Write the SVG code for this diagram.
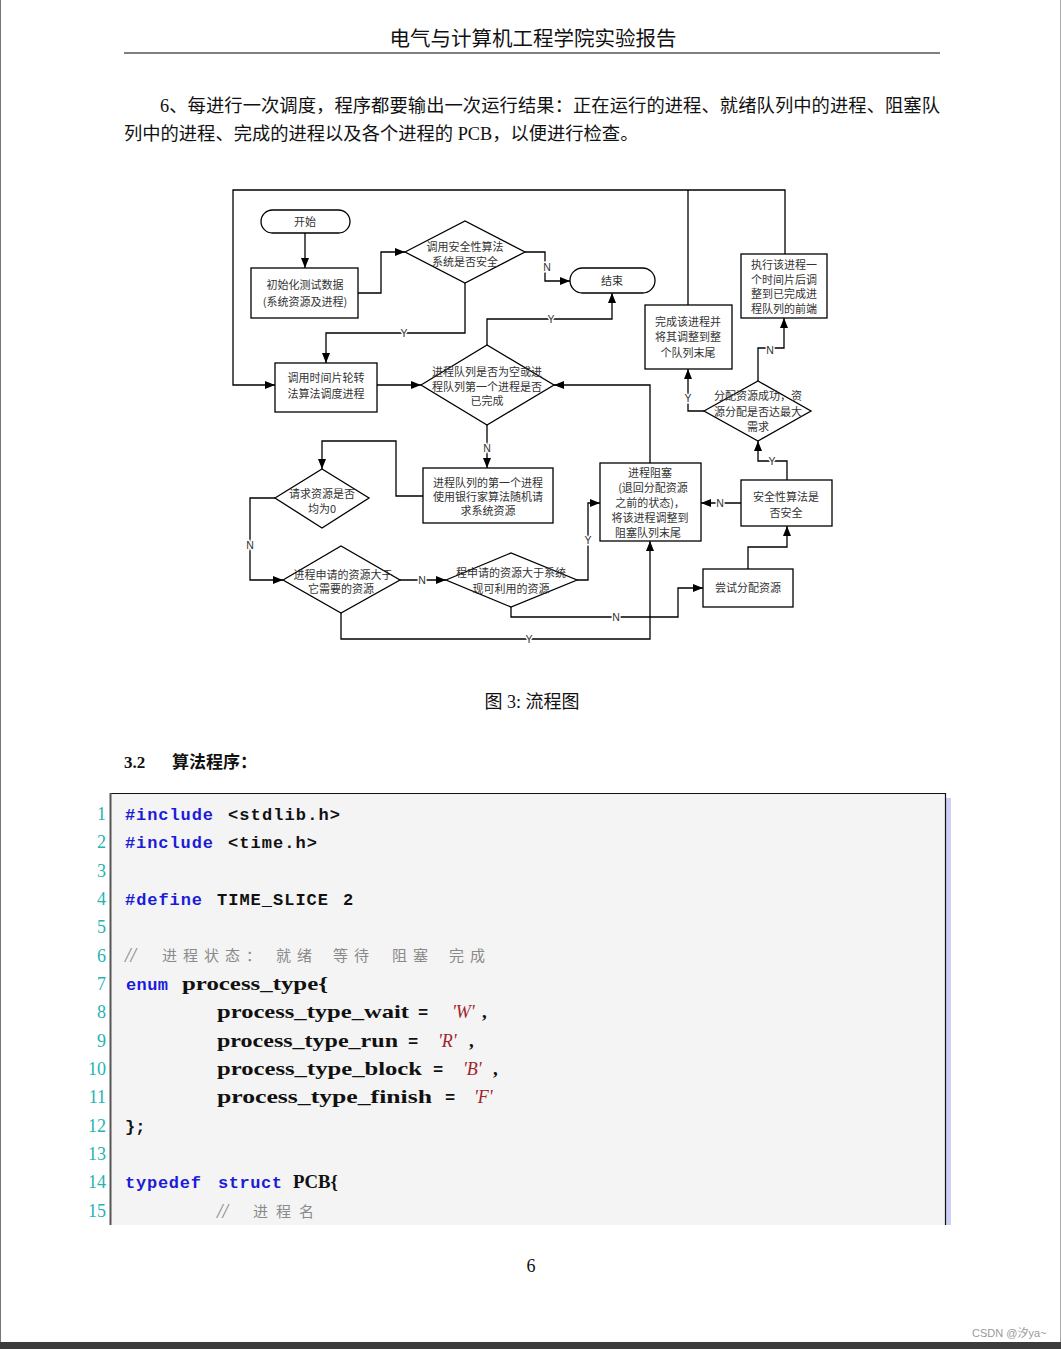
<svg xmlns="http://www.w3.org/2000/svg" width="1061" height="1349" viewBox="0 0 1061 1349">
<defs>
<marker id="ah" markerUnits="userSpaceOnUse" viewBox="0 0 10 8" markerWidth="10" markerHeight="8" refX="10" refY="4" orient="auto">
<path d="M0,0 L10,4 L0,8 z" fill="#000"/>
</marker>
<style>
.n{fill:#fff;stroke:#000;stroke-width:1.3}
.c{fill:none;stroke:#000;stroke-width:1.3;marker-end:url(#ah)}
.c0{fill:none;stroke:#000;stroke-width:1.3}
.t{font-family:"Noto Sans CJK SC","Liberation Sans",sans-serif;font-size:11px;fill:#333;text-anchor:middle}
.l{font-family:"Liberation Sans",sans-serif;font-size:10.5px;fill:#333;text-anchor:middle;stroke:#fff;stroke-width:3;paint-order:stroke}
.doc{font-family:"Liberation Serif","Noto Sans CJK SC",serif;fill:#111}
.mono{font-family:"Liberation Mono",monospace;font-weight:bold;font-size:17px}
.kw{fill:#1c1cd8}
.blk{fill:#111}
.id{font-family:"Liberation Serif",serif;font-weight:bold;font-size:19px;fill:#111}
.str{font-family:"Liberation Serif",serif;font-style:italic;font-size:18px;fill:#a0242c}
.cm{font-family:"Noto Sans CJK SC",sans-serif;font-size:15px;fill:#8a8a8a}
.cms{font-family:"Liberation Serif",serif;font-style:italic;font-size:20px;fill:#8a8a8a}
.ln{font-family:"Liberation Serif",serif;font-size:18px;fill:#25b3b3;text-anchor:end}
</style>
</defs>
<rect x="0" y="0" width="1061" height="1349" fill="#fff"/>
<line x1="0.5" y1="0" x2="0.5" y2="1342" stroke="#777" stroke-width="1"/>
<line x1="1060.5" y1="0" x2="1060.5" y2="1342" stroke="#aaa" stroke-width="1"/>

<!-- header -->
<text class="doc" x="533" y="46" font-size="20.5" text-anchor="middle">电气与计算机工程学院实验报告</text>
<line x1="124" y1="53" x2="940" y2="53" stroke="#000" stroke-width="1"/>
<text class="doc" x="160" y="112" font-size="18.3" textLength="780" lengthAdjust="spacing">6、每进行一次调度，程序都要输出一次运行结果：正在运行的进程、就绪队列中的进程、阻塞队</text>
<text class="doc" x="124" y="140" font-size="18.3">列中的进程、完成的进程以及各个进程的 PCB，以便进行检查。</text>

<!-- flowchart connectors -->
<g id="connectors">
<path class="c" d="M305,233 V268"/>
<path class="c" d="M358,293 H381 V252 H405"/>
<path class="c" d="M525,252 H545 V281 H570"/>
<path class="c" d="M465,283 V333 H326 V363"/>
<path class="c" d="M377,385 H421"/>
<path class="c" d="M487,345 V319 H612 V293"/>
<path class="c" d="M487,425 V468"/>
<path class="c" d="M423,496 H396 V441 H322 V469"/>
<path class="c" d="M275,498 H250 V580 H283"/>
<path class="c" d="M400,580 H446"/>
<path class="c" d="M577,580 H588 V503 H600"/>
<path class="c" d="M511,607 V617 H678 V588 H703"/>
<path class="c" d="M341,613 V639 H650 V541"/>
<path class="c" d="M748,569 V547 H787 V526"/>
<path class="c" d="M741,503 H701"/>
<path class="c" d="M787,480 V461 H758 V441"/>
<path class="c" d="M758,381 V348 H784 V318"/>
<path class="c" d="M704,411 H688 V369"/>
<path class="c0" d="M688,305 V190"/>
<path class="c" d="M785,254 V190 H233 V385 H275"/>
<path class="c" d="M650,463 V385 H554"/>
<text class="l" x="547" y="271">N</text>
<text class="l" x="404" y="337">Y</text>
<text class="l" x="551" y="323">Y</text>
<text class="l" x="487" y="452">N</text>
<text class="l" x="250" y="549">N</text>
<text class="l" x="422" y="584">N</text>
<text class="l" x="588" y="544">Y</text>
<text class="l" x="616" y="621">N</text>
<text class="l" x="529" y="643">Y</text>
<text class="l" x="720" y="507">N</text>
<text class="l" x="772" y="465">Y</text>
<text class="l" x="770" y="354">N</text>
<text class="l" x="688" y="402">Y</text>
</g>

<!-- flowchart nodes -->
<g id="start"><rect class="n" x="261" y="210" width="89" height="23" rx="11.5"/><text class="t" x="305" y="226">开始</text></g>
<g id="init"><rect class="n" x="251" y="268" width="107" height="50"/><text class="t" x="305" y="289">初始化测试数据</text><text class="t" x="305" y="306">(系统资源及进程)</text></g>
<g id="safe1"><polygon class="n" points="405,252 465,221 525,252 465,283"/><text class="t" x="465" y="251">调用安全性算法</text><text class="t" x="465" y="266">系统是否安全</text></g>
<g id="end"><rect class="n" x="570" y="268" width="85" height="25" rx="12.5"/><text class="t" x="612" y="285">结束</text></g>
<g id="rr"><rect class="n" x="275" y="363" width="102" height="49"/><text class="t" x="326" y="382">调用时间片轮转</text><text class="t" x="326" y="398">法算法调度进程</text></g>
<g id="check"><polygon class="n" points="421,385 487,345 554,385 487,425"/><text class="t" x="487" y="376">进程队列是否为空或进</text><text class="t" x="487" y="391">程队列第一个进程是否</text><text class="t" x="487" y="405">已完成</text></g>
<g id="bank"><rect class="n" x="423" y="468" width="130" height="55"/><text class="t" x="488" y="487">进程队列的第一个进程</text><text class="t" x="488" y="501">使用银行家算法随机请</text><text class="t" x="488" y="515">求系统资源</text></g>
<g id="zero"><polygon class="n" points="275,498 322,469 369,498 322,528"/><text class="t" x="322" y="498">请求资源是否</text><text class="t" x="322" y="513">均为0</text></g>
<g id="need"><polygon class="n" points="283,580 341,546 400,580 341,613"/><text class="t" x="343" y="579">进程申请的资源大于</text><text class="t" x="341" y="593">它需要的资源</text></g>
<g id="avail"><polygon class="n" points="446,580 511,553 577,580 511,607"/><text class="t" x="511" y="577">程申请的资源大于系统</text><text class="t" x="511" y="593">现可利用的资源</text></g>
<g id="block"><rect class="n" x="600" y="463" width="101" height="78"/><text class="t" x="650" y="477">进程阻塞</text><text class="t" x="653" y="492">(退回分配资源</text><text class="t" x="650" y="507">之前的状态)，</text><text class="t" x="650" y="522">将该进程调整到</text><text class="t" x="648" y="537">阻塞队列末尾</text></g>
<g id="try"><rect class="n" x="703" y="569" width="90" height="38"/><text class="t" x="748" y="592">尝试分配资源</text></g>
<g id="safe2"><rect class="n" x="741" y="480" width="91" height="46"/><text class="t" x="786" y="501">安全性算法是</text><text class="t" x="786" y="517">否安全</text></g>
<g id="max"><polygon class="n" points="704,411 758,381 811,411 758,441"/><text class="t" x="758" y="400">分配资源成功，资</text><text class="t" x="758" y="416">源分配是否达最大</text><text class="t" x="758" y="431">需求</text></g>
<g id="finish"><rect class="n" x="645" y="305" width="87" height="64"/><text class="t" x="688" y="326">完成该进程并</text><text class="t" x="688" y="341">将其调整到整</text><text class="t" x="688" y="357">个队列末尾</text></g>
<g id="exec"><rect class="n" x="741" y="254" width="86" height="64"/><text class="t" x="784" y="269">执行该进程一</text><text class="t" x="784" y="284">个时间片后调</text><text class="t" x="784" y="298">整到已完成进</text><text class="t" x="784" y="313">程队列的前端</text></g>

<!-- caption and section -->
<text class="doc" x="532" y="708" font-size="18" text-anchor="middle">图 3: 流程图</text>
<text class="doc" x="124" y="768" font-size="17" font-weight="bold">3.2</text>
<text class="doc" x="172" y="768" font-size="17" font-weight="bold">算法程序：</text>

<!-- code listing -->
<rect x="110" y="793" width="835" height="432" fill="#f4f4f4"/>
<rect x="946" y="798" width="5" height="427" fill="#ccd0f2"/>
<line x1="110" y1="793.5" x2="945.5" y2="793.5" stroke="#111" stroke-width="1.2"/>
<line x1="945.5" y1="793" x2="945.5" y2="1225" stroke="#111" stroke-width="1.2"/>
<line x1="110.5" y1="793" x2="110.5" y2="1225" stroke="#555" stroke-width="2"/>

<text class="ln" x="106" y="820">1</text>
<text class="ln" x="106" y="848">2</text>
<text class="ln" x="106" y="877">3</text>
<text class="ln" x="106" y="905">4</text>
<text class="ln" x="106" y="933">5</text>
<text class="ln" x="106" y="962">6</text>
<text class="ln" x="106" y="990">7</text>
<text class="ln" x="106" y="1018">8</text>
<text class="ln" x="106" y="1047">9</text>
<text class="ln" x="106" y="1075">10</text>
<text class="ln" x="106" y="1103">11</text>
<text class="ln" x="106" y="1132">12</text>
<text class="ln" x="106" y="1160">13</text>
<text class="ln" x="106" y="1188">14</text>
<text class="ln" x="106" y="1217">15</text>

<text class="mono kw" x="125" y="820" textLength="88" lengthAdjust="spacing">#include</text>
<text class="mono blk" x="228" y="820" textLength="112" lengthAdjust="spacing">&lt;stdlib.h&gt;</text>
<text class="mono kw" x="125" y="848" textLength="88" lengthAdjust="spacing">#include</text>
<text class="mono blk" x="228" y="848" textLength="89" lengthAdjust="spacing">&lt;time.h&gt;</text>
<text class="mono kw" x="125" y="905" textLength="77" lengthAdjust="spacing">#define</text>
<text class="mono blk" x="217" y="905" textLength="111" lengthAdjust="spacing">TIME_SLICE</text>
<text class="mono blk" x="343" y="905">2</text>
<text class="cms" x="125" y="962">//</text>
<text class="cm" x="162" y="961" letter-spacing="6">进程状态：</text>
<text class="cm" x="276" y="961" letter-spacing="6">就绪</text>
<text class="cm" x="333" y="961" letter-spacing="6">等待</text>
<text class="cm" x="392" y="961" letter-spacing="6">阻塞</text>
<text class="cm" x="449" y="961" letter-spacing="6">完成</text>
<text class="mono kw" x="126" y="990" textLength="42" lengthAdjust="spacing">enum</text>
<text class="id" x="182" y="990" textLength="146" lengthAdjust="spacingAndGlyphs">process_type{</text>
<text class="id" x="217" y="1018" textLength="192" lengthAdjust="spacingAndGlyphs">process_type_wait</text>
<text class="mono blk" x="418" y="1018">=</text>
<text class="str" x="452" y="1018">'W'</text><text class="id" x="482" y="1018">,</text>
<text class="id" x="217" y="1047" textLength="181" lengthAdjust="spacingAndGlyphs">process_type_run</text>
<text class="mono blk" x="408" y="1047">=</text>
<text class="str" x="438" y="1047">'R'</text><text class="id" x="469" y="1047">,</text>
<text class="id" x="217" y="1075" textLength="205" lengthAdjust="spacingAndGlyphs">process_type_block</text>
<text class="mono blk" x="433" y="1075">=</text>
<text class="str" x="463" y="1075">'B'</text><text class="id" x="493" y="1075">,</text>
<text class="id" x="217" y="1103" textLength="215" lengthAdjust="spacingAndGlyphs">process_type_finish</text>
<text class="mono blk" x="445" y="1103">=</text>
<text class="str" x="474" y="1103">'F'</text>
<text class="mono blk" x="125" y="1132">};</text>
<text class="mono kw" x="125" y="1188" textLength="76" lengthAdjust="spacing">typedef</text>
<text class="mono kw" x="218" y="1188" textLength="64" lengthAdjust="spacing">struct</text>
<text class="id" x="293" y="1188" textLength="45" lengthAdjust="spacingAndGlyphs">PCB{</text>
<text class="cms" x="217" y="1218">//</text>
<text class="cm" x="253" y="1217" letter-spacing="8">进程名</text>

<!-- footer -->
<text class="doc" x="531" y="1272" font-size="18" text-anchor="middle">6</text>
<text x="972" y="1337" font-family="Liberation Sans,'Noto Sans CJK SC',sans-serif" font-size="11" fill="#999">CSDN @汐ya~</text>
<rect x="0" y="1342" width="1061" height="7" fill="#3c3c3c"/>
</svg>
